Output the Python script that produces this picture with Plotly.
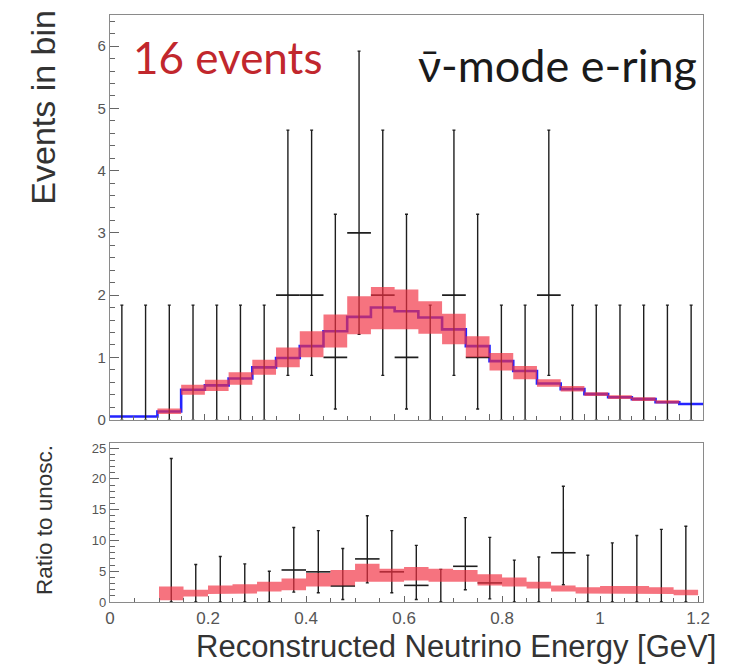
import plotly.graph_objects as go

# ---------------- data ----------------
# top panel: 25 bins of width 0.05 GeV, 0 .. 1.25
bin_edges_top = [round(0.05 * i, 2) for i in range(26)]
bin_centers_top = [0.025, 0.075, 0.125, 0.175, 0.225, 0.275, 0.325, 0.375, 0.425, 0.475,
                   0.525, 0.575, 0.625, 0.675, 0.725, 0.775, 0.825, 0.875, 0.925, 0.975,
                   1.025, 1.075, 1.125, 1.175, 1.225]
events = [0, 0, 0, 0, 0, 0, 0, 2, 2, 1, 3, 2, 1, 0, 2, 1, 0, 0, 2, 0, 0, 0, 0, 0, 0]
events_err_low_end = [0, 0, 0, 0, 0, 0, 0, 0.71, 0.71, 0.17, 1.37, 0.71, 0.17, 0, 0.71, 0.17,
                      0, 0, 0.71, 0, 0, 0, 0, 0, 0]
events_err_high_end = [1.84, 1.84, 1.84, 1.84, 1.84, 1.84, 1.84, 4.65, 4.65, 3.3, 5.92, 4.65,
                       3.3, 1.84, 4.65, 3.3, 1.84, 1.84, 4.65, 1.84, 1.84, 1.84, 1.84, 1.84, 1.84]
prediction = [0.05, 0.05, 0.13, 0.48, 0.55, 0.66, 0.84, 0.99, 1.18, 1.42, 1.65, 1.80, 1.74,
              1.64, 1.45, 1.18, 0.94, 0.78, 0.58, 0.49, 0.41, 0.36, 0.33, 0.28, 0.25]
# uncertainty band, bins 2 .. 23 (0.10 .. 1.20 GeV)
band_edges_top = [round(0.10 + 0.05 * i, 2) for i in range(23)]
band_low_top = [0.09, 0.40, 0.46, 0.56, 0.72, 0.84, 1.00, 1.16, 1.37, 1.45, 1.45, 1.38, 1.21,
                1.00, 0.79, 0.65, 0.53, 0.45, 0.38, 0.33, 0.30, 0.26]
band_high_top = [0.18, 0.56, 0.64, 0.76, 0.96, 1.16, 1.42, 1.69, 1.98, 2.13, 2.09, 1.90, 1.70,
                 1.34, 1.07, 0.86, 0.65, 0.54, 0.44, 0.39, 0.36, 0.31]

# bottom panel: ratio to unoscillated, bins 2 .. 23
ratio_centers = [0.125, 0.175, 0.225, 0.275, 0.325, 0.375, 0.425, 0.475, 0.525, 0.575, 0.625,
                 0.675, 0.725, 0.775, 0.825, 0.875, 0.925, 0.975, 1.025, 1.075, 1.125, 1.175]
ratio = [0, 0, 0, 0, 0, 5.2, 4.9, 2.6, 7.0, 4.9, 2.7, 0, 5.8, 3.1, 0, 0, 8.0, 0, 0, 0, 0, 0]
ratio_err_low_end = [0, 0, 0, 0, 0, 1.6, 1.5, 0.4, 3.1, 1.5, 0.4, 0, 2.0, 0.5, 0, 0, 2.8,
                     0, 0, 0, 0, 0]
ratio_err_high_end = [23.3, 6.1, 7.4, 6.2, 5.0, 12.1, 11.6, 8.7, 14.0, 11.6, 9.2, 5.3, 13.7,
                      10.5, 6.8, 7.3, 18.8, 7.6, 9.6, 10.8, 11.8, 12.3]
band_edges_bot = band_edges_top
band_low_bot = [0.3, 0.9, 1.3, 1.4, 1.7, 1.9, 2.5, 2.7, 3.3, 3.3, 3.5, 3.3, 3.3, 2.7, 2.5,
                2.2, 1.7, 1.4, 1.3, 1.3, 1.3, 1.1]
band_high_bot = [2.5, 2.0, 2.7, 2.9, 3.3, 3.8, 4.7, 5.2, 6.2, 5.4, 5.7, 5.4, 5.2, 4.5, 4.0,
                 3.3, 2.7, 2.4, 2.6, 2.6, 2.4, 2.0]

x_ticks_bot = [0, 0.2, 0.4, 0.6, 0.8, 1.0, 1.2]
x_ticktext_bot = ["0", "0.2", "0.4", "0.6", "0.8", "1", "1.2"]

# ---------------- helpers ----------------
BAND = "rgba(242,48,66,0.68)"
DATA = "#1e1e1e"


def band_polygon(edges, lo, hi):
    xs, ys = [], []
    for i in range(len(hi)):
        xs += [edges[i], edges[i + 1]]
        ys += [hi[i], hi[i]]
    for i in reversed(range(len(lo))):
        xs += [edges[i + 1], edges[i]]
        ys += [lo[i], lo[i]]
    xs.append(xs[0])
    ys.append(ys[0])
    return xs, ys


def data_trace(x, y, lo_end, hi_end, xa, ya, halfwidth):
    return go.Scatter(
        x=x, y=y, mode="markers", xaxis=xa, yaxis=ya,
        marker=dict(size=1, color=DATA),
        error_y=dict(type="data", symmetric=False,
                     array=[h - v for h, v in zip(hi_end, y)],
                     arrayminus=[v - l for v, l in zip(y, lo_end)],
                     color=DATA, thickness=1.4, width=1.5),
        error_x=dict(type="data", symmetric=True,
                     array=[halfwidth if v > 0 else 0 for v in y],
                     color=DATA, thickness=1.6, width=0),
        showlegend=False, hoverinfo="skip")


fig = go.Figure()

# top panel
fig.add_trace(go.Scatter(
    x=bin_edges_top, y=prediction + [prediction[-1]], mode="lines", line_shape="hv",
    line=dict(color="#2424ff", width=2.6), xaxis="x", yaxis="y", showlegend=False))
fig.add_trace(data_trace(bin_centers_top, events, events_err_low_end, events_err_high_end,
                         "x", "y", 0.025))
bx, by = band_polygon(band_edges_top, band_low_top, band_high_top)
fig.add_trace(go.Scatter(x=bx, y=by, mode="lines", fill="toself", fillcolor=BAND,
                         line=dict(width=0), xaxis="x", yaxis="y", showlegend=False))

# bottom panel
fig.add_trace(data_trace(ratio_centers, ratio, ratio_err_low_end, ratio_err_high_end,
                         "x2", "y2", 0.025))
bx2, by2 = band_polygon(band_edges_bot, band_low_bot, band_high_bot)
fig.add_trace(go.Scatter(x=bx2, y=by2, mode="lines", fill="toself", fillcolor=BAND,
                         line=dict(width=0), xaxis="x2", yaxis="y2", showlegend=False))

axis_common = dict(showgrid=False, zeroline=False, showline=True, mirror=True,
                   linecolor="#8a8a8a", linewidth=1.2, ticks="inside", tickcolor="#666",
                   tickwidth=1.2)
tickfont = dict(family="Liberation Sans, Arial, sans-serif", color="#555")

# the page body adds an 8 px offset, so the figure is 8 px smaller than the window
fig.update_layout(
    width=736, height=658,
    margin=dict(l=102, r=41, t=5, b=64),
    paper_bgcolor="white", plot_bgcolor="white",
    xaxis=dict(domain=[0, 1], anchor="y", range=[0, 1.25], showticklabels=False,
               tick0=0, dtick=0.2, ticklen=6,
               minor=dict(ticks="inside", dtick=0.05, ticklen=4, tickcolor="#666"),
               **axis_common),
    yaxis=dict(domain=[0.3107, 1], anchor="x", range=[0, 6.5], dtick=1, ticklen=9,
               tickfont=dict(size=15, **tickfont),
               minor=dict(ticks="inside", dtick=0.2, ticklen=5, tickcolor="#666"),
               **axis_common),
    xaxis2=dict(domain=[0, 1], anchor="y2", range=[0, 1.21], tickvals=x_ticks_bot,
                ticktext=x_ticktext_bot, ticklen=6, tickfont=dict(size=17, **tickfont),
                minor=dict(ticks="inside", dtick=0.05, ticklen=4, tickcolor="#666"),
                **axis_common),
    yaxis2=dict(domain=[0, 0.2716], anchor="x2", range=[0, 25.9], dtick=5, ticklen=9,
                tickfont=dict(size=13, **tickfont),
                minor=dict(ticks="inside", dtick=1, ticklen=5, tickcolor="#666"),
                **axis_common),
    annotations=[
        dict(text="16 events", xref="paper", yref="paper", x=0.036, y=0.928,
             xanchor="left", yanchor="middle", showarrow=False,
             font=dict(family="Lato, Open Sans, sans-serif", size=44, color="#c1272d")),
        dict(text="\u03bd\u0304-mode e-ring", xref="paper", yref="paper", x=0.993, y=0.914,
             xanchor="right", yanchor="middle", showarrow=False,
             font=dict(family="Lato, Open Sans, sans-serif", size=45, color="#1a1a1a")),
        dict(text="Events in bin", xref="paper", yref="paper", x=-0.113, y=0.8438,
             xanchor="center", yanchor="middle", textangle=-90, showarrow=False,
             font=dict(family="Liberation Sans, Arial, sans-serif", size=34, color="#333")),
        dict(text="Ratio to unosc.", xref="paper", yref="paper", x=-0.11, y=0.1392,
             xanchor="center", yanchor="middle", textangle=-90, showarrow=False,
             font=dict(family="Liberation Sans, Arial, sans-serif", size=22.5, color="#333")),
        dict(text="Reconstructed Neutrino Energy [GeV]", xref="paper", yref="paper",
             x=0.5835, y=-0.0764, xanchor="center", yanchor="middle", showarrow=False,
             font=dict(family="Liberation Sans, Arial, sans-serif", size=31, color="#333")),
    ],
)

fig.write_html("out.html")
